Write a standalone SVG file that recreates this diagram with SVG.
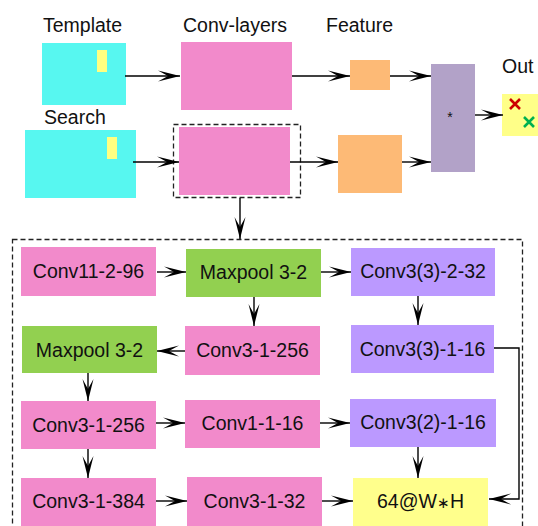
<svg xmlns="http://www.w3.org/2000/svg" width="538" height="526" viewBox="0 0 538 526">
  <style>
    text { font-family: "Liberation Sans", Arial, sans-serif; font-size: 19.5px; fill: #111; }
    .mid { text-anchor: middle; }
    .cyan { fill: #57F7F0; }
    .mark { fill: #FFFF80; }
    .pink { fill: #F28ACB; }
    .orange { fill: #FDBA76; }
    .corr { fill: #B2A2C8; }
    .green { fill: #92D050; }
    .lav { fill: #BB99FF; }
    .yel { fill: #FFFF8C; }
    .dash { fill: none; stroke: #222; stroke-width: 1.3; stroke-dasharray: 5 3; }
    .edge { fill: none; stroke: #000; stroke-width: 1.4; marker-end: url(#head); }
  </style>
  <defs>
    <marker id="head" markerUnits="userSpaceOnUse" markerWidth="26" markerHeight="14" viewBox="-24 -7 26 14" refX="0" refY="0" orient="auto">
      <path d="M0,0 L-22,-5.5 L-12,0 L-22,5.5 Z" fill="#000"/>
    </marker>
  </defs>

  <rect width="538" height="526" fill="#fff"/>

  <!-- top pipeline -->
  <g id="template">
    <text x="43" y="32">Template</text>
    <rect class="cyan" x="42" y="43" width="84" height="62"/>
    <rect class="mark" x="97" y="50" width="10" height="22"/>
  </g>
  <g id="search">
    <text x="44" y="124">Search</text>
    <rect class="cyan" x="25" y="130" width="111" height="68"/>
    <rect class="mark" x="107" y="137" width="10" height="22"/>
  </g>
  <g id="conv-template">
    <text x="183" y="32">Conv-layers</text>
    <rect class="pink" x="181" y="42" width="111" height="68"/>
  </g>
  <g id="conv-search">
    <rect class="pink" x="179" y="127" width="111" height="68"/>
    <rect class="dash" x="173.5" y="124.5" width="127" height="73"/>
  </g>
  <g id="feature-template">
    <text x="326" y="32">Feature</text>
    <rect class="orange" x="350" y="60" width="40" height="30"/>
  </g>
  <g id="feature-search">
    <rect class="orange" x="338" y="135" width="64" height="58"/>
  </g>
  <g id="correlation">
    <rect class="corr" x="431" y="64" width="44" height="108"/>
    <text class="mid" x="450" y="122" style="font-size:14px">*</text>
  </g>
  <g id="out">
    <text x="502" y="73">Out</text>
    <rect x="502" y="94" width="38" height="42" fill="#FFFF88"/>
    <path d="M510,99 L520,109 M520,99 L510,109" stroke="#CC0000" stroke-width="2.6"/>
    <path d="M524,117 L534,127 M534,117 L524,127" stroke="#00B050" stroke-width="2.6"/>
  </g>

  <!-- expanded backbone -->
  <g id="backbone-frame">
    <rect class="dash" x="12.5" y="239.5" width="510" height="300"/>
  </g>
  <g id="conv11-2-96">
    <rect class="pink" x="21" y="247" width="135" height="49"/>
    <text class="mid" x="88.5" y="278">Conv11-2-96</text>
  </g>
  <g id="maxpool-a">
    <rect class="green" x="186" y="249" width="135" height="48"/>
    <text class="mid" x="253.5" y="279">Maxpool 3-2</text>
  </g>
  <g id="conv3-3-2-32">
    <rect class="lav" x="351" y="248" width="144" height="48"/>
    <text class="mid" x="423" y="278">Conv3(3)-2-32</text>
  </g>
  <g id="maxpool-b">
    <rect class="green" x="22" y="326" width="135" height="47"/>
    <text class="mid" x="89.5" y="357">Maxpool 3-2</text>
  </g>
  <g id="conv3-1-256-a">
    <rect class="pink" x="185" y="326" width="135" height="49"/>
    <text class="mid" x="252.5" y="357">Conv3-1-256</text>
  </g>
  <g id="conv3-3-1-16">
    <rect class="lav" x="351" y="325" width="143" height="48"/>
    <text class="mid" x="422.5" y="356">Conv3(3)-1-16</text>
  </g>
  <g id="conv3-1-256-b">
    <rect class="pink" x="21" y="401" width="135" height="48"/>
    <text class="mid" x="88.5" y="432">Conv3-1-256</text>
  </g>
  <g id="conv1-1-16">
    <rect class="pink" x="185" y="400" width="135" height="48"/>
    <text class="mid" x="252.5" y="430">Conv1-1-16</text>
  </g>
  <g id="conv3-2-1-16">
    <rect class="lav" x="350" y="399" width="146" height="48"/>
    <text class="mid" x="423" y="429">Conv3(2)-1-16</text>
  </g>
  <g id="conv3-1-384">
    <rect class="pink" x="21" y="478" width="135" height="52"/>
    <text class="mid" x="88.5" y="508">Conv3-1-384</text>
  </g>
  <g id="conv3-1-32">
    <rect class="pink" x="187" y="477" width="135" height="53"/>
    <text class="mid" x="254.5" y="508">Conv3-1-32</text>
  </g>
  <g id="output-map">
    <rect class="yel" x="353" y="478" width="135" height="52"/>
    <text class="mid" x="420.5" y="508">64@W<tspan style="font-size:15px">∗</tspan>H</text>
  </g>

  <!-- connectors -->
  <g id="connectors">
    <path class="edge" d="M125,76 H180"/>
    <path class="edge" d="M133,162 H179"/>
    <path class="edge" d="M292,76 H350"/>
    <path class="edge" d="M290,162 H338"/>
    <path class="edge" d="M390,76 H431"/>
    <path class="edge" d="M402,162 H431"/>
    <path class="edge" d="M475,115 H503"/>
    <path class="edge" d="M240,198 V239"/>

    <path class="edge" d="M157,272 H186"/>
    <path class="edge" d="M321,272 H351"/>
    <path class="edge" d="M254,297 V326"/>
    <path class="edge" d="M418,296 V325"/>
    <path class="edge" d="M185,351 H157"/>
    <path class="edge" d="M88,373 V401"/>
    <path class="edge" d="M156,423 H185"/>
    <path class="edge" d="M320,423 H350"/>
    <path class="edge" d="M88,449 V478"/>
    <path class="edge" d="M418,447 V478"/>
    <path class="edge" d="M156,501 H187"/>
    <path class="edge" d="M322,501 H353"/>
    <path class="edge" d="M494,348 H519 V499 H489"/>
  </g>
</svg>
